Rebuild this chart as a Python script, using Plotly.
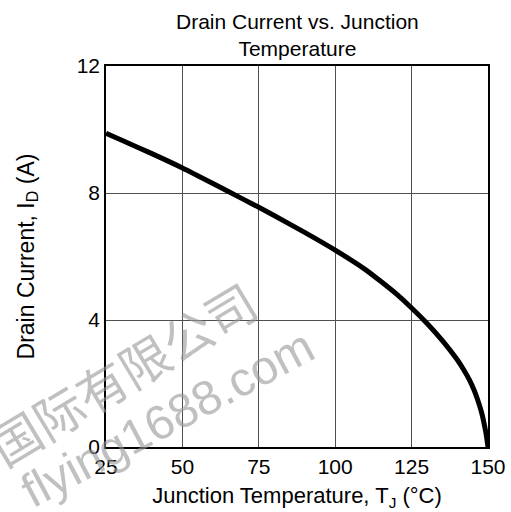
import plotly.graph_objects as go

# Data
temperature_c = [25, 30, 40, 50, 60, 70, 75, 80, 90, 100, 110, 115, 120, 125, 130, 135, 140, 142, 144, 145.5, 146.5, 147.5, 148.2, 148.8, 149.4, 150]
drain_current_a = [9.88, 9.67, 9.24, 8.79, 8.3, 7.8, 7.55, 7.29, 6.76, 6.2, 5.58, 5.21, 4.82, 4.38, 3.9, 3.36, 2.74, 2.44, 2.1, 1.78, 1.52, 1.22, 0.97, 0.7, 0.4, 0.0]

x_ticks = [25, 50, 75, 100, 125, 150]
y_ticks = [0, 4, 8, 12]

FONT = "Liberation Sans, Arial, sans-serif"

fig = go.Figure()
fig.add_trace(go.Scatter(
    x=temperature_c, y=drain_current_a, mode="lines",
    line=dict(color="black", width=5, shape="spline", smoothing=0.6),
    showlegend=False, hoverinfo="skip", cliponaxis=False,
))

fig.update_layout(
    width=511, height=512,
    margin=dict(l=106, r=23, t=66, b=65, autoexpand=False),
    paper_bgcolor="white", plot_bgcolor="white",
    font=dict(family=FONT, size=21, color="black"),
    showlegend=False,
)

fig.update_xaxes(
    range=[25, 150], tickvals=x_ticks, ticks="", ticklen=0,
    showgrid=True, gridcolor="#505050", gridwidth=1,
    showline=True, linecolor="black", linewidth=1.5, mirror=True,
    zeroline=False, tickfont=dict(size=21), automargin=False,
    title=dict(text="Junction Temperature, T<sub>J</sub> (°C)", standoff=11,
               font=dict(size=22)),
)
fig.update_yaxes(
    range=[0, 12], tickvals=y_ticks, ticks="", ticklen=0,
    showgrid=True, gridcolor="#505050", gridwidth=1,
    showline=True, linecolor="black", linewidth=1.5, mirror=True,
    zeroline=False, tickfont=dict(size=21), automargin=False,
    title=dict(text="Drain Current, I<sub>D</sub> (A)", standoff=36,
               font=dict(size=23)),
)

# Title
fig.add_annotation(
    text="Drain Current vs. Junction<br>Temperature", xref="paper", yref="paper",
    x=0.5, y=(447 - 35) / 381, xanchor="center", yanchor="middle",
    showarrow=False, font=dict(family=FONT, size=21, color="black"),
)

# Watermark
fig.add_annotation(
    text="国际有限公司", xref="paper", yref="paper",
    x=0.042, y=0.197, xanchor="center", yanchor="middle",
    textangle=-31, showarrow=False,
    font=dict(family="Noto Sans CJK SC", size=50, color="rgba(150,150,150,0.6)"),
)
fig.add_annotation(
    text="flying1688.com", xref="paper", yref="paper",
    x=0.16, y=0.076, xanchor="center", yanchor="middle",
    textangle=-28, showarrow=False,
    font=dict(family=FONT, size=48, color="rgba(150,150,150,0.6)"),
)

fig.write_html(
    "out.html",
    config={"displayModeBar": False},
    post_script="document.body.style.margin='0';document.body.style.overflow='hidden';",
)
